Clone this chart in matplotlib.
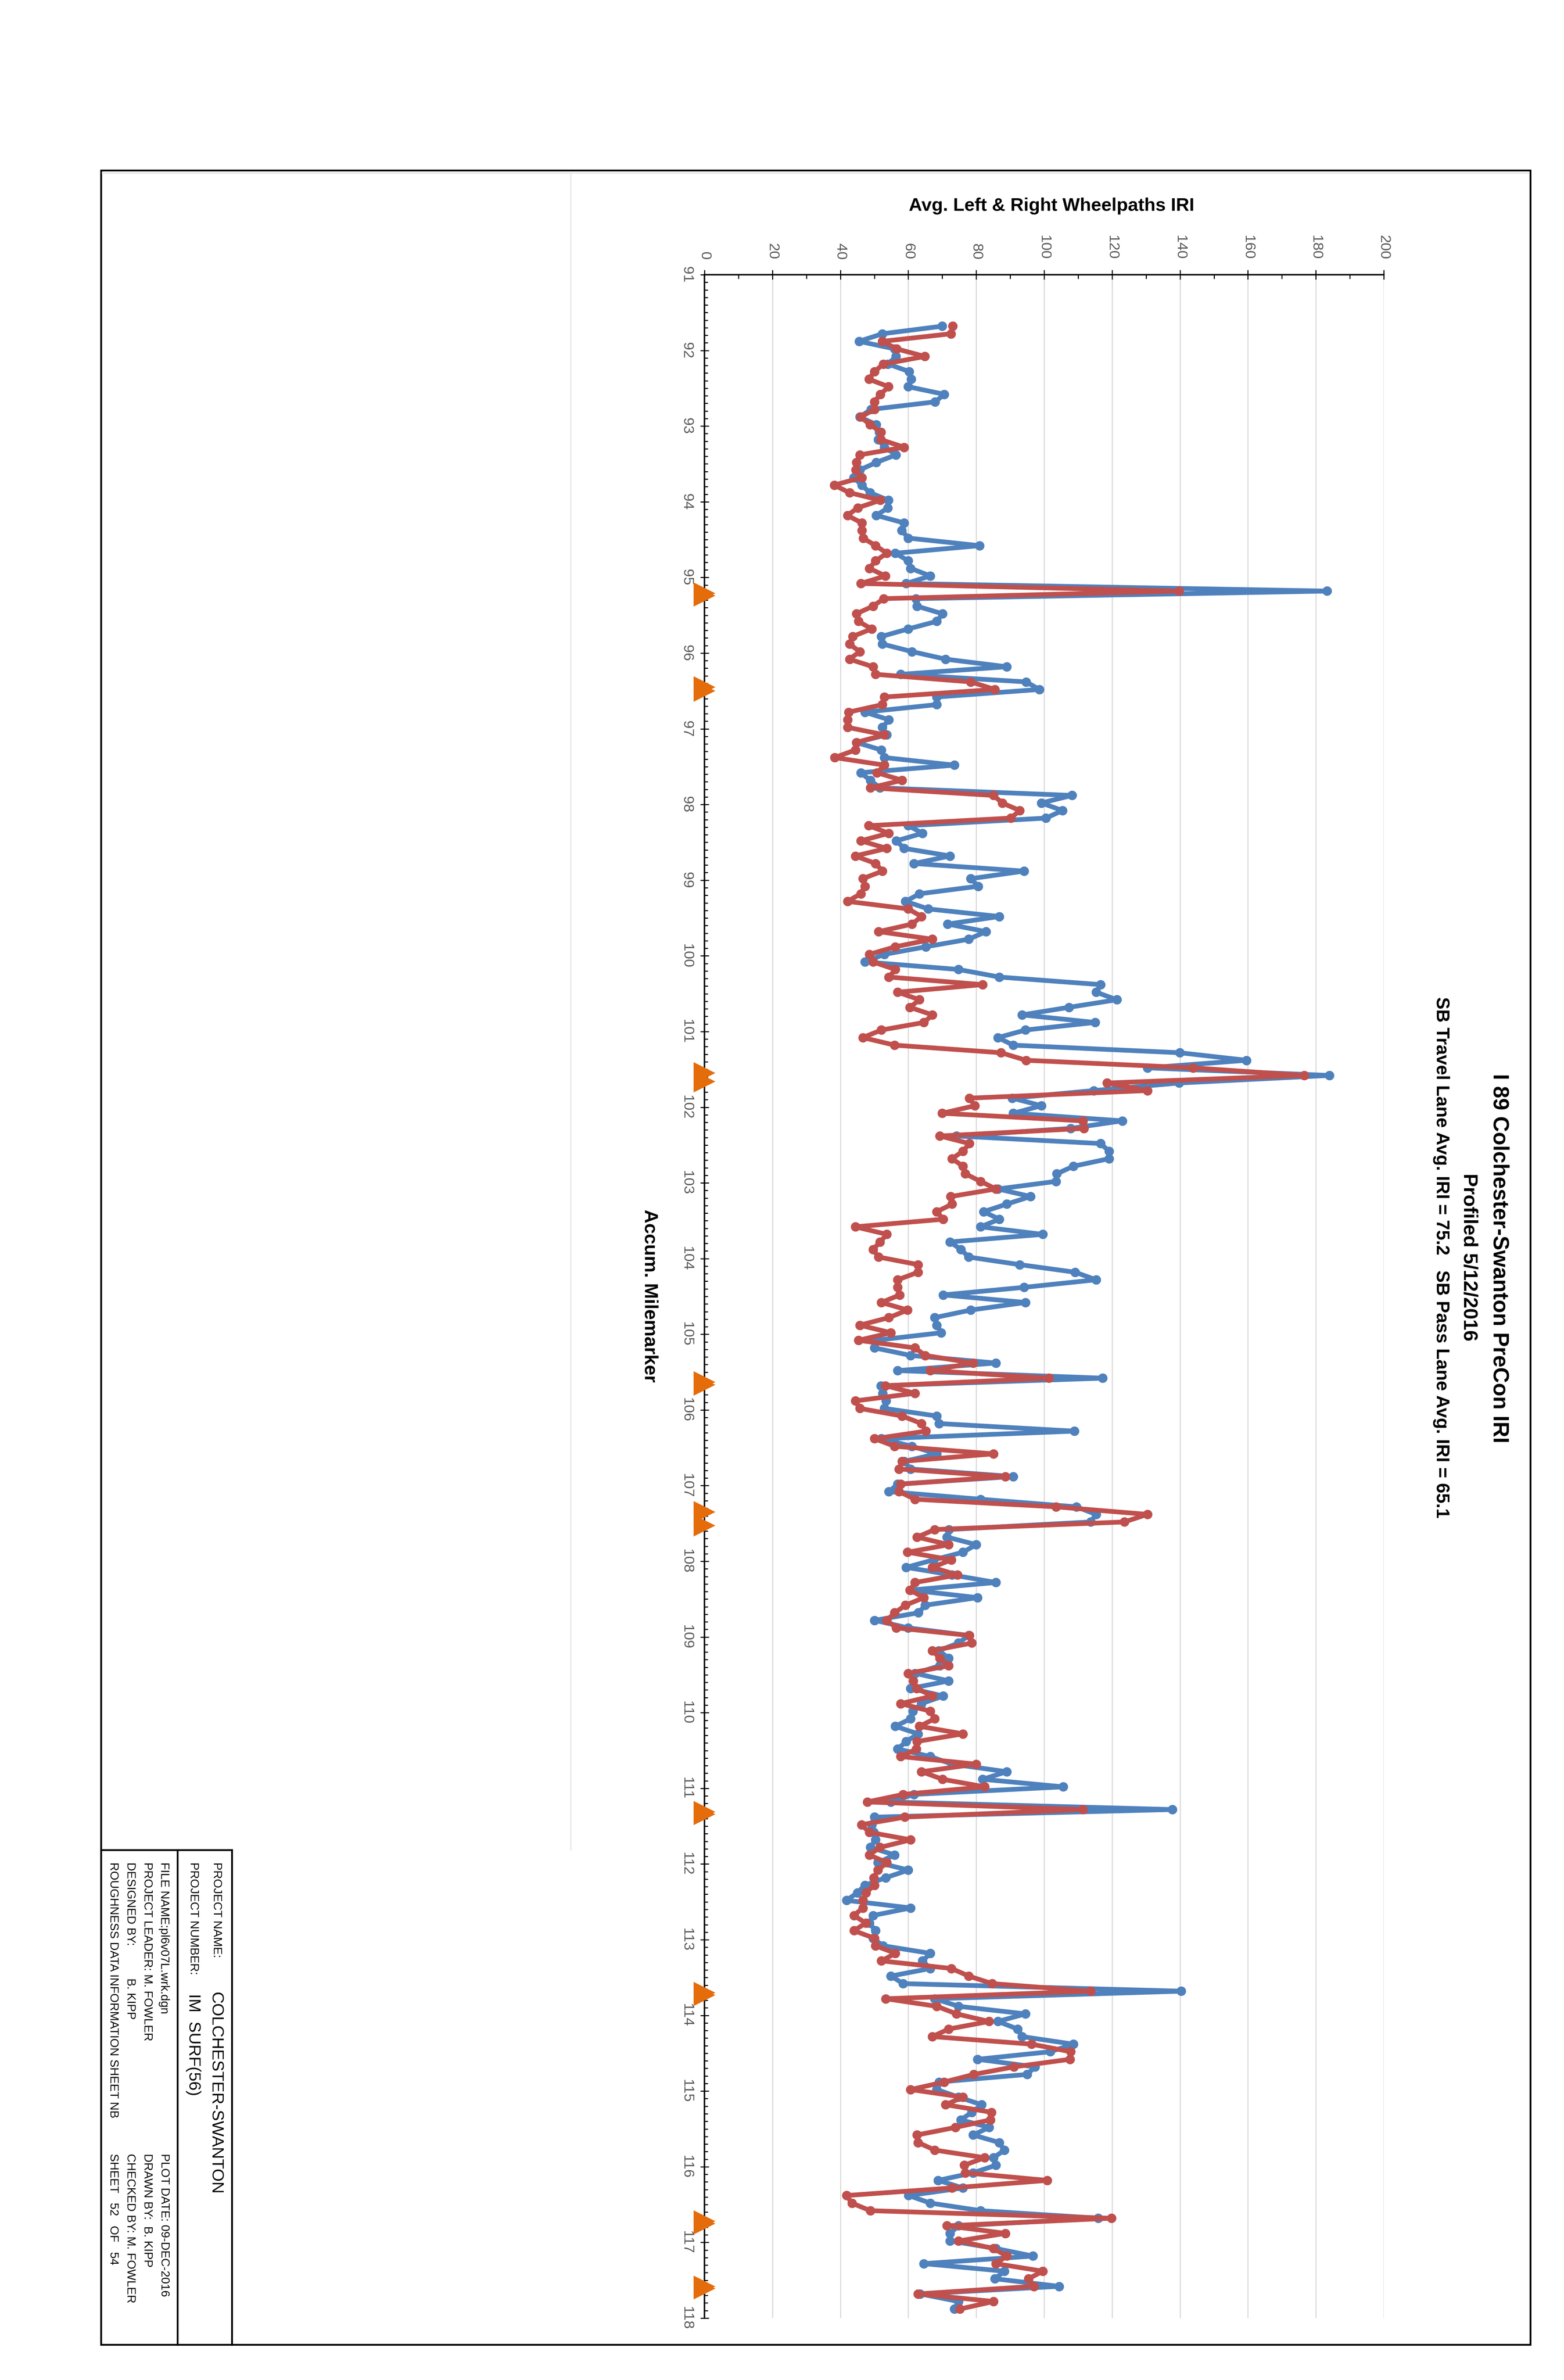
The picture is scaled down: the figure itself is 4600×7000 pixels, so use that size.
import numpy as np
import matplotlib
matplotlib.use("Agg")
import matplotlib.pyplot as plt
from matplotlib.ticker import MultipleLocator
from matplotlib.patches import Rectangle

# ---------------- data ----------------
# profile sampled every 0.1 mile, starting near MM 91.68
milepost = np.round(np.arange(263) * 0.1 + 91.68, 2)

travel_iri = [  # blue series
    70.0, 52.4, 45.5, 56.0, 56.4, 54.0, 60.3, 60.9, 60.0, 70.6, 67.9, 49.0, 45.7, 50.6, 51.5,
    51.2, 53.0, 56.4, 50.6, 45.7, 43.9, 46.3, 48.7, 54.2, 54.0, 50.6, 58.8, 58.1, 60.0,
    81.0, 56.2, 60.0, 60.7, 66.5, 59.4, 183.3, 62.3, 62.6, 70.1, 68.4, 60.0, 52.1, 52.4, 61.1,
    71.0, 89.0, 57.8, 94.7, 98.6, 68.4, 68.4, 47.2, 54.3, 52.4, 53.7, 44.7, 52.1, 53.0, 73.6,
    46.0, 48.8, 51.7, 108.2, 99.2, 105.4, 100.5, 60.0, 64.2, 56.5, 58.8, 72.3, 61.7, 94.1, 78.4,
    80.6, 63.3, 59.2, 65.9, 86.8, 71.6, 82.9, 77.8, 65.2, 53.0, 47.2, 74.8, 86.8, 116.6,
    115.3, 121.4, 107.3, 93.5, 115.0, 94.5, 86.4, 90.9, 139.9, 159.6, 130.4, 184.0, 139.7, 114.6, 90.6,
    99.2, 90.9, 123.0, 107.8, 74.2, 116.6, 119.1, 119.1, 108.6, 103.7, 103.5, 86.4, 96.0, 89.0,
    82.2, 86.8, 81.3, 99.6, 72.3, 75.5, 77.8, 92.8, 109.1, 115.3, 94.1, 70.3, 94.5, 78.4, 67.8,
    68.4, 69.7, 50.4, 50.1, 60.7, 85.8, 56.9, 117.2, 52.0, 52.5, 53.5, 53.0, 68.4, 69.1, 108.9,
    52.1, 61.1, 68.4, 58.8, 60.7, 90.9, 56.9, 54.3, 81.3, 109.5, 115.3, 113.7, 72.0, 71.4,
    80.0, 76.1, 67.5, 59.4, 72.9, 85.8, 60.7, 80.4, 65.0, 63.0, 50.1, 60.0, 77.8, 74.8,
    69.0, 71.9, 69.3, 62.0, 71.9, 60.7, 70.3, 63.9, 61.4, 60.7, 56.2, 62.9, 59.4, 56.9, 66.5,
    72.9, 89.0, 81.9, 105.6, 61.7, 54.9, 137.7, 50.1, 49.2, 49.8, 50.4, 48.8, 56.0, 51.1, 60.0,
    53.4, 47.2, 45.0, 41.8, 60.7, 49.6, 48.5, 50.4, 49.6, 52.6, 66.5, 64.2, 66.5, 54.9, 58.5,
    140.3, 67.8, 74.8, 94.5, 86.4, 92.2, 93.5, 108.6, 101.8, 80.4, 97.3, 95.0, 69.1, 68.4,
    74.8, 81.6, 78.7, 75.5, 83.8, 79.1, 86.8, 88.3, 85.1, 85.8, 79.1, 68.8, 76.1, 60.1, 66.5,
    81.3, 115.9, 74.8, 72.3, 72.3, 85.8, 96.7, 64.6, 88.3, 85.5, 104.4, 63.5, 74.8, 73.6,
]

pass_iri = [  # red series
    73.1, 72.6, 52.4, 56.6, 64.9, 52.7, 50.0, 48.4, 54.2, 51.8, 50.0, 50.0, 46.0, 48.7, 52.0,
    52.0, 58.8, 45.7, 44.7, 44.5, 46.3, 38.2, 42.7, 51.8, 45.1, 42.1, 46.3, 46.3, 46.7,
    50.4, 53.7, 50.4, 48.5, 53.3, 46.0, 139.7, 52.8, 49.6, 44.7, 45.3, 49.2, 43.6, 42.7, 45.7,
    42.7, 49.6, 50.4, 78.4, 85.5, 53.0, 52.4, 42.4, 42.1, 42.1, 53.0, 44.7, 44.4, 38.3, 53.0,
    50.8, 58.2, 48.8, 85.1, 87.7, 92.8, 90.2, 48.3, 54.3, 46.0, 53.7, 44.4, 50.4, 52.4, 46.6,
    47.2, 46.0, 42.1, 60.0, 63.9, 61.1, 51.3, 67.1, 56.2, 48.5, 49.6, 56.2, 54.3, 81.9,
    56.9, 63.3, 60.5, 67.1, 64.6, 52.1, 46.6, 56.0, 87.3, 94.7, 143.8, 176.6, 118.5, 130.4, 78.0,
    79.6, 70.0, 111.4, 111.7, 69.3, 78.0, 76.1, 72.9, 76.1, 76.8, 81.3, 85.8, 72.5, 72.9,
    68.4, 70.3, 44.4, 53.7, 51.7, 49.6, 51.3, 62.9, 62.9, 56.9, 56.9, 57.5, 52.1, 59.8, 54.3,
    45.7, 54.9, 45.3, 62.0, 65.0, 79.1, 66.5, 101.4, 53.3, 62.0, 44.4, 45.7, 58.2, 63.9,
    65.2, 50.1, 56.0, 85.1, 58.2, 57.3, 88.6, 57.8, 57.3, 62.0, 103.5, 130.4, 123.6, 67.8, 62.6,
    71.9, 59.8, 72.7, 67.1, 74.5, 62.0, 60.5, 64.6, 59.2, 56.0, 53.7, 56.5, 78.0, 78.7,
    67.1, 69.3, 71.9, 60.0, 61.5, 62.5, 67.1, 57.8, 66.5, 67.8, 63.3, 76.1, 62.6, 62.4, 57.8,
    80.0, 63.9, 70.1, 82.5, 58.5, 47.9, 111.4, 59.0, 46.2, 48.5, 60.7, 51.7, 48.5, 53.7, 51.1,
    49.8, 50.0, 47.5, 46.6, 46.6, 44.0, 47.5, 44.0, 50.0, 50.4, 56.2, 52.1, 72.7, 77.8, 84.7,
    113.7, 53.4, 68.4, 74.2, 83.8, 71.9, 67.1, 96.3, 107.8, 107.6, 91.1, 79.3, 70.6, 60.7,
    76.1, 71.0, 84.5, 84.2, 73.9, 62.6, 62.9, 67.8, 82.5, 76.5, 76.8, 100.9, 72.9, 41.8, 43.4,
    48.8, 119.8, 71.4, 88.6, 74.8, 85.1, 89.0, 85.8, 99.6, 95.4, 97.0, 62.9, 85.1, 75.2,
]

# bridge / structure markers (two overlapping triangles each)
bridge_mm_a = [95.21, 96.45, 101.55, 105.63, 107.35, 111.31, 113.70, 116.72, 117.58]
bridge_mm_b = [95.24, 96.50, 101.66, 105.67, 107.53, 111.34, 113.73, 116.75, 117.61]

iri_ticks = list(range(0, 201, 20))
mile_ticks = list(range(91, 119))

title = "I 89 Colchester-Swanton PreCon IRI"
subtitle = "Profiled 5/12/2016"
avg_line = "SB Travel Lane Avg. IRI = 75.2   SB Pass Lane Avg. IRI = 65.1"
x_title = "Avg. Left & Right Wheelpaths IRI"
y_title = "Accum. Milemarker"

# ---------------- figure ----------------
W, H = 4600, 7000
fig = plt.figure(figsize=(W / 100, H / 100), dpi=100)
fig.patch.set_facecolor("white")

# background axes in pixel coordinates for frame, title block and texts
bg = fig.add_axes([0, 0, 1, 1], zorder=0)
bg.set_xlim(0, W)
bg.set_ylim(H, 0)
bg.axis("off")

# main plot area (pixel bounds)
x0, x1 = 2072, 4070
y0, y1 = 808, 6818
ax = fig.add_axes([x0 / W, 1 - y1 / H, (x1 - x0) / W, (y1 - y0) / H], zorder=2)
ax.set_facecolor("none")

blue = "#4F81BD"
red = "#C0504D"
orange = "#E46C0A"

ax.plot(travel_iri, milepost, color=blue, lw=10, marker="o", ms=19, mec=blue, mfc=blue,
        zorder=3, solid_joinstyle="round", clip_on=False)
ax.plot(pass_iri, milepost, color=red, lw=10, marker="o", ms=19, mec=red, mfc=red,
        zorder=4, solid_joinstyle="round", clip_on=False)
ax.plot([0] * len(bridge_mm_a), bridge_mm_a, linestyle="none", marker=">", ms=46,
        color=orange, mew=0, zorder=6, clip_on=False)
ax.plot([0] * len(bridge_mm_b), bridge_mm_b, linestyle="none", marker=">", ms=46,
        color=orange, mew=0, zorder=6, clip_on=False)

ax.set_xlim(0, 200)
ax.set_ylim(118, 91)

ax.xaxis.tick_top()
ax.set_xticks(iri_ticks)
ax.xaxis.set_minor_locator(MultipleLocator(10))
ax.set_yticks(mile_ticks)
ax.yaxis.set_minor_locator(MultipleLocator(0.1))

tick_font = {"family": ["Liberation Sans", "DejaVu Sans"], "size": 31}
ax.set_xticklabels([str(v) for v in iri_ticks], fontdict=tick_font, color="#595959", rotation=-90)
ax.set_yticklabels([str(v) for v in mile_ticks], fontdict=tick_font, color="#595959", rotation=-90)
for lbl in ax.get_yticklabels():
    lbl.set_va("center")

ax.tick_params(axis="x", which="major", direction="inout", length=19.5, width=2.2, pad=22,
               top=True, bottom=False)
ax.tick_params(axis="x", which="minor", direction="in", length=8.5, width=2.2, top=True, bottom=False)
ax.tick_params(axis="y", which="major", direction="inout", length=18, width=2.2, pad=14)
ax.tick_params(axis="y", which="minor", direction="in", length=7, width=2.2)

for s in ["right", "bottom"]:
    ax.spines[s].set_visible(False)
ax.spines["top"].set_linewidth(3.2)
ax.spines["left"].set_linewidth(3.2)
ax.spines["top"].set_zorder(5)
ax.spines["left"].set_zorder(5)
ax.grid(axis="x", which="major", color="#D9D9D9", lw=2.2, zorder=0)
ax.set_axisbelow(True)

# ---------------- frame, faint chart-area lines, title block ----------------
bg.add_patch(Rectangle((297, 501), 4501 - 297, 6896 - 501, fill=False, ec="black", lw=3.8))
bg.plot([300, 4498], [509, 509], color="#D9D9D9", lw=1.6)
bg.plot([1679, 1679], [509, 5441], color="#D9D9D9", lw=1.6)
bg.plot([297, 682], [5441, 5441], color="black", lw=3.8)
bg.plot([682, 682], [5441, 6896], color="black", lw=3.8)
bg.plot([522, 522], [5441, 6896], color="black", lw=3.8)

tb_font = ["Liberation Sans", "DejaVu Sans"]
tb_items = [
    (637, 5477, "PROJECT NAME:", 25),
    (634, 5859, "COLCHESTER-SWANTON", 35),
    (570, 5477, "PROJECT NUMBER:", 25),
    (569, 5864, "IM  SURF(56)", 35),
    (483, 5477, "FILE NAME:pl6v07L.wrk.dgn", 25),
    (483, 6334, "PLOT DATE: 09-DEC-2016", 25),
    (434, 5477, "PROJECT LEADER: M. FOWLER", 25),
    (434, 6334, "DRAWN BY:  B. KIPP", 25),
    (383, 5477, "DESIGNED BY:", 25),
    (383, 5818, "B. KIPP", 25),
    (383, 6334, "CHECKED BY: M. FOWLER", 25),
    (333, 5477, "ROUGHNESS DATA INFORMATION SHEET NB", 25),
    (333, 6334, "SHEET   52   OF   54", 25),
]
for xp, yp, s, fs in tb_items:
    bg.text(xp, yp, s, rotation=-90, rotation_mode="anchor", ha="left", va="center",
            fontsize=fs, family=tb_font, color="black")

# ---------------- chart titles ----------------
bold_font = ["Liberation Sans", "DejaVu Sans"]
bg.text(4409, 3701, title, rotation=-90, rotation_mode="anchor", ha="center", va="center",
        fontsize=46, fontweight="bold", family=bold_font)
bg.text(4320, 3698, subtitle, rotation=-90, rotation_mode="anchor", ha="center", va="center",
        fontsize=42, fontweight="bold", family=bold_font)
bg.text(4239, 3699, avg_line, rotation=-90, rotation_mode="anchor", ha="center", va="center",
        fontsize=38.5, fontweight="bold", family=bold_font)
bg.text(3093, 606, x_title, ha="center", va="center", fontsize=39, fontweight="bold",
        family=bold_font)
bg.text(1911, 3811, y_title, rotation=-90, rotation_mode="anchor", ha="center", va="center",
        fontsize=40, fontweight="bold", family=bold_font)

fig.savefig("out.png", dpi=100, facecolor="white")
